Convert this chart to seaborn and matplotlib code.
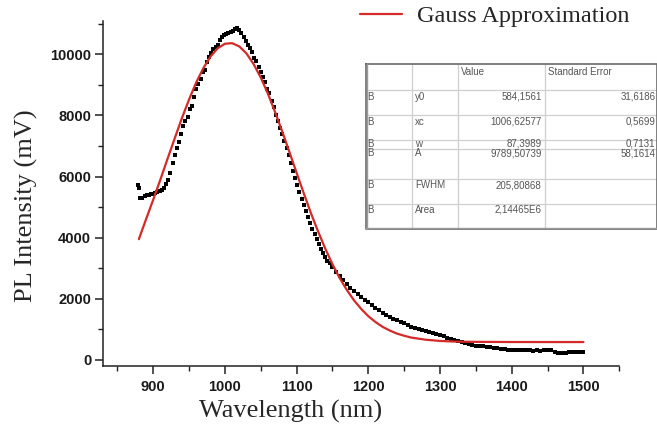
import matplotlib
matplotlib.use('Agg')
import matplotlib.pyplot as plt
import seaborn as sns
import pandas as pd
from matplotlib.ticker import MultipleLocator
from matplotlib.lines import Line2D

sns.set_theme(style='ticks')
plt.rcParams['font.family'] = ['Liberation Sans', 'DejaVu Sans']

# ---- measured PL data (wavelength nm, intensity mV) ----
wl_data = [879, 880, 882, 885, 888, 891, 894, 897, 900, 903, 906, 909, 912, 915, 918,
           921, 924, 927, 930, 933, 936, 939, 942, 945, 948, 951, 954, 957, 960, 963,
           966, 969, 972, 975, 978, 981, 984, 987, 990, 993, 996, 999, 1002, 1005, 1008,
           1011, 1014, 1017, 1020, 1023, 1026, 1029, 1032, 1035, 1038, 1041, 1044, 1047,
           1050, 1053, 1056, 1059, 1062, 1065, 1068, 1071, 1074, 1077, 1080, 1083, 1086,
           1089, 1092, 1095, 1098, 1101, 1104, 1107, 1110, 1113, 1116, 1119, 1122, 1125,
           1128, 1131, 1134, 1137, 1140, 1143, 1146,
           1150, 1155, 1160, 1165, 1170, 1175, 1180, 1185, 1190, 1195, 1200, 1205, 1210,
           1215, 1220, 1225, 1230, 1235, 1240, 1245, 1250, 1255, 1260, 1265, 1270, 1275,
           1280, 1285, 1290, 1295, 1300, 1305, 1310, 1315, 1320, 1325, 1330, 1335, 1340,
           1345, 1350, 1355, 1360, 1365, 1370, 1375, 1380, 1385, 1390, 1395, 1400, 1405,
           1410, 1415, 1420, 1425, 1430, 1435, 1440, 1445, 1450, 1455, 1460, 1465, 1470,
           1475, 1480, 1485, 1490, 1495, 1500]
pl_data = [5730, 5620, 5300, 5290, 5360, 5400, 5380, 5440, 5440, 5470, 5500, 5530, 5570, 5640, 5750,
           5900, 6120, 6450, 6720, 6930, 7120, 7380, 7640, 7820, 7950, 8200, 8320, 8600, 8880, 9020,
           9180, 9420, 9500, 9740, 9900, 10030, 10160, 10240, 10320, 10480, 10580, 10620, 10660, 10690, 10720,
           10760, 10820, 10850, 10780, 10690, 10560, 10430, 10320, 10200, 10070, 9890, 9770, 9600,
           9430, 9270, 9080, 8880, 8720, 8480, 8260, 8020, 7830, 7600, 7390, 7170, 6950,
           6690, 6430, 6180, 5940, 5710, 5490, 5280, 5080, 4870, 4660, 4470, 4290, 4110,
           3950, 3790, 3630, 3490, 3360, 3250, 3160,
           3040, 2880, 2740, 2620, 2480, 2360, 2250, 2150, 2050, 1960, 1880, 1800, 1710,
           1620, 1540, 1470, 1400, 1340, 1290, 1250, 1200, 1140, 1090, 1050, 1000, 970,
           940, 900, 890, 850, 820, 780, 730, 700, 660, 610, 570, 545, 520,
           500, 470, 450, 440, 425, 410, 400, 395, 370, 350, 340, 330, 320,
           330, 320, 325, 310, 300, 310, 300, 320, 340, 320, 260, 225, 210,
           235, 250, 250, 260, 255, 265]

# ---- Gauss approximation curve ----
wl_fit = [880, 890, 900, 910, 920, 930, 940, 950, 960, 970, 980, 990, 1000, 1010, 1020,
          1030, 1040, 1050, 1060, 1070, 1080, 1090, 1100, 1110, 1120, 1130, 1140, 1150,
          1160, 1170, 1180, 1190, 1200, 1210, 1220, 1230, 1240, 1250, 1260, 1280, 1300,
          1320, 1350, 1400, 1450, 1500]
pl_fit = [3950, 4600, 5240, 5900, 6580, 7250, 7910, 8520, 9080, 9550, 9930, 10200, 10345, 10365, 10260,
          10030, 9680, 9240, 8710, 8110, 7470, 6800, 6120, 5450, 4800, 4200, 3640, 3130,
          2680, 2290, 1950, 1670, 1430, 1240, 1080, 960, 860, 790, 730, 660, 620,
          600, 590, 585, 584, 584]

# ---- fit parameter table ----
tbl_header = ["", "", "Value", "Standard Error"]
tbl_col0 = ["B", "B", "B", "B", "B", "B"]
tbl_params = ["y0", "xc", "w", "A", "FWHM", "Area"]
tbl_values = ["584,1561", "1006,62577", "87,3989", "9789,50739", "205,80868", "2,14465E6"]
tbl_errors = ["31,6186", "0,5699", "0,7131", "58,1614", "", ""]

legend_label = "Gauss Approximation"
x_label = "Wavelength (nm)"
y_label = "PL Intensity (mV)"

W, H = 657, 432
fig = plt.figure(figsize=(W / 100, H / 100), dpi=100)
fig.patch.set_facecolor('white')
ax = fig.add_axes([103 / W, 1 - 365.7 / H, (619.3 - 103) / W, (365.7 - 20.7) / H])
ax.set_facecolor('white')

df_data = pd.DataFrame({'wl': wl_data, 'pl': pl_data})
df_fit = pd.DataFrame({'wl': wl_fit, 'pl': pl_fit})

sns.scatterplot(data=df_data, x='wl', y='pl', ax=ax, color='black', marker='s',
                s=6, linewidth=0, legend=False, zorder=2)
sns.lineplot(data=df_fit, x='wl', y='pl', ax=ax, color='#d42a2a', linewidth=1.6,
             estimator=None, sort=False, zorder=3, label=legend_label)

ax.set_xlim(830, 1550)
ax.set_ylim(-190, 11100)
ax.xaxis.set_major_locator(MultipleLocator(100))
ax.xaxis.set_minor_locator(MultipleLocator(50))
ax.yaxis.set_major_locator(MultipleLocator(2000))
ax.yaxis.set_minor_locator(MultipleLocator(1000))
ax.set_xticks(range(900, 1501, 100))
ax.set_yticks(range(0, 10001, 2000))

for s in ['top', 'right']:
    ax.spines[s].set_visible(False)
for s in ['left', 'bottom']:
    ax.spines[s].set_linewidth(1.1)
    ax.spines[s].set_color('#222222')

ax.tick_params(axis='both', which='major', direction='out', length=6, width=1.1,
               color='#222222', labelsize=10.5)
ax.tick_params(axis='both', which='minor', direction='out', length=3.5, width=1.0,
               color='#222222')
ax.tick_params(axis='x', which='major', pad=4)
ax.tick_params(axis='y', which='major', pad=2.5)
for lab in ax.get_xticklabels() + ax.get_yticklabels():
    lab.set_fontweight('bold')
    lab.set_color('#1a1a1a')

ax.set_xlabel(x_label, fontsize=19, family=['Liberation Serif', 'DejaVu Serif'])
ax.set_ylabel(y_label, fontsize=19, family=['Liberation Serif', 'DejaVu Serif'])
ax.xaxis.set_label_coords((291 - 103) / 516.3, (365.7 - 400) / 345)
ax.yaxis.set_label_coords((38 - 103) / 516.3, (365.7 - 206) / 345)

leg = ax.legend(loc='center left', bbox_to_anchor=(360 / W, 1 - 16 / H),
                bbox_transform=fig.transFigure, frameon=False, borderpad=0,
                borderaxespad=0, handlelength=1.72, handletextpad=0.62,
                prop={'family': ['Liberation Serif', 'DejaVu Serif'], 'size': 17.5})

# ---- table overlay in pixel coordinates ----
ov = fig.add_axes([0, 0, 1, 1], facecolor='none')
ov.set_xlim(0, W)
ov.set_ylim(H, 0)
ov.axis('off')

tx0, tx1 = 366, 656.5
ty0, ty1 = 64.3, 229
col_x = [412.3, 458.3, 545]
row_y = [90, 115, 140, 148.5, 179, 204]
grid_c = '#cfcfcf'
for cx in col_x:
    ov.add_line(Line2D([cx, cx], [ty0, ty1], color=grid_c, lw=0.9))
for ry in row_y:
    ov.add_line(Line2D([tx0, tx1], [ry, ry], color=grid_c, lw=0.9))
ov.add_line(Line2D([tx0, tx1, tx1, tx0, tx0], [ty0, ty0, ty1, ty1, ty0],
                   color='#6a6a6a', lw=1.2))
ov.add_line(Line2D([tx0 + 1.2, tx0 + 1.2], [ty0, ty1], color='#9a9a9a', lw=1.0))
ov.add_line(Line2D([tx0, tx1], [ty1 - 1.2, ty1 - 1.2], color='#9a9a9a', lw=1.0))

tfont = dict(fontsize=7.0, color='#555555', family=['Liberation Sans', 'DejaVu Sans'])
ov.text(461, 71.7, tbl_header[2], ha='left', va='center', **tfont)
ov.text(548.3, 71.7, tbl_header[3], ha='left', va='center', **tfont)
text_y = [96.7, 121.7, 143.6, 153.2, 185, 210]
for i in range(len(tbl_params)):
    ty = text_y[i]
    ov.text(367.3, ty, tbl_col0[i], ha='left', va='center', **tfont)
    ov.text(415, ty, tbl_params[i], ha='left', va='center', **tfont)
    ov.text(541.7, ty, tbl_values[i], ha='right', va='center', **tfont)
    if tbl_errors[i]:
        ov.text(655.5, ty, tbl_errors[i], ha='right', va='center', **tfont)

fig.savefig('out.png', dpi=100, facecolor='white')
